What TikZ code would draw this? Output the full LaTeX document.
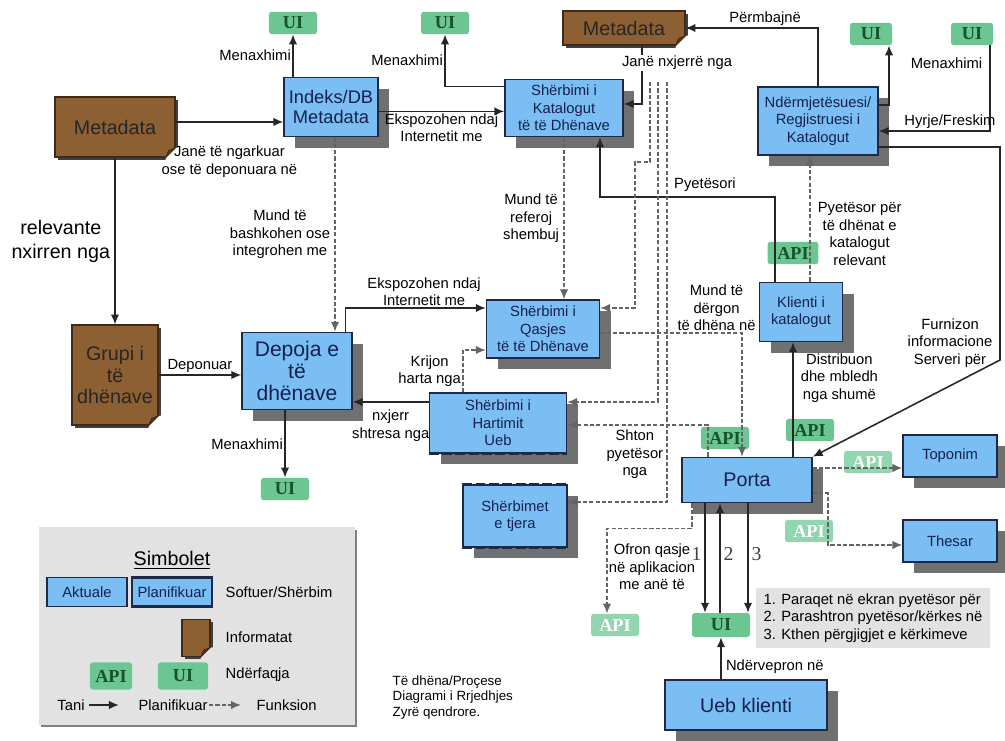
\documentclass[tikz,border=0pt]{standalone}
\usepackage{fontspec}
\setmainfont{Liberation Sans}
\newfontfamily\ifacefont{Liberation Serif}
\usepackage{tikz}
\usetikzlibrary{arrows.meta,shadows,positioning,calc}

\definecolor{boxblue}{RGB}{122,190,243}
\definecolor{boxline}{RGB}{28,42,72}
\definecolor{boxtext}{RGB}{22,32,78}
\definecolor{docbrown}{RGB}{141,96,52}
\definecolor{docline}{RGB}{62,42,22}
\definecolor{ifgreen}{RGB}{108,198,146}
\definecolor{ifpale}{RGB}{146,214,176}
\definecolor{iftext}{RGB}{22,82,42}
\definecolor{shadowgray}{RGB}{112,112,112}
\definecolor{legendgray}{RGB}{226,226,226}
\definecolor{planline}{RGB}{100,100,100}

\newcommand{\lblsize}{\fontsize{10.5}{12.5}\selectfont}
\newcommand{\bigtxt}{\fontsize{14}{14}\selectfont}

\begin{document}
\begin{tikzpicture}[x=0.025cm,y=-0.025cm,>={Latex[length=7pt,width=6pt]}]
    \tikzstyle{boxbase}=[rectangle, draw=boxline, line width=1pt, fill=boxblue, text=boxtext, align=center, font=\lblsize, inner sep=1pt]
    \tikzstyle{box}=[boxbase, drop shadow={shadow xshift=0.28cm, shadow yshift=-0.28cm, fill=shadowgray, opacity=1}]
    \tikzstyle{doc}=[rectangle, draw=docline, line width=0.8pt, fill=docbrown, text=black!85, align=center, font=\bigtxt, inner sep=1pt, drop shadow={shadow xshift=0.07cm, shadow yshift=-0.07cm, fill=black!75, opacity=1}]
    \tikzstyle{iface}=[rectangle, rounded corners=2pt, fill=ifgreen, text=iftext, font=\ifacefont\bfseries\fontsize{13}{13}\selectfont, minimum width=1.2cm, minimum height=0.56cm, inner sep=1pt]
    \tikzstyle{ifaded}=[iface, fill=ifpale, text=white]
    \tikzstyle{lbl}=[font=\lblsize, align=center, inner sep=1pt]
    \tikzstyle{arr}=[->, line width=1.1pt, draw=black!85]
    \tikzstyle{plan}=[->, line width=1.1pt, draw=planline, dash pattern=on 3pt off 1.5pt]
    \tikzstyle{dashedge}=[line width=2.2pt, draw=boxline, dash pattern=on 7pt off 2.5pt]
    \tikzstyle{num}=[font=\ifacefont\fontsize{14}{14}\selectfont, text=black!75, inner sep=2pt]

    \useasboundingbox (0,0) rectangle (1005,741);

    % legend
    \node[rectangle, fill=legendgray, minimum width=7.88cm, minimum height=4.93cm, drop shadow={shadow xshift=0.05cm, shadow yshift=-0.06cm, fill=black!50, opacity=1}] (legend) at (197,626) {};
    \node[font=\bigtxt] (simbolet) at (172,560) {\underline{Simbolet}};
    \node[boxbase, minimum width=2cm, minimum height=0.72cm] (aktuale) at (87,592) {Aktuale};
    \node[boxbase, line width=1.6pt, minimum width=2cm, minimum height=0.72cm] (planif) at (172,592) {Planifikuar};
    \node[lbl, anchor=west] (softuer) at (224,592) {Softuer/Shërbim};
    \node[doc, minimum width=0.7cm, minimum height=0.93cm] (legdoc) at (196,638) {};
    \node[lbl, anchor=west] (informatat) at (224,637) {Informatat};
    \node[iface, minimum width=1.05cm, minimum height=0.68cm] (legapi) at (111,676) {API};
    \node[iface, minimum width=1.25cm, minimum height=0.68cm] (legui) at (183,676) {UI};
    \node[lbl, anchor=west] (nderfaqja) at (224,675) {Ndërfaqja};
    \node[lbl] (tani) at (71,705) {Tani};
    \node[lbl] (planlbl) at (173,705) {Planifikuar};
    \node[lbl, anchor=west] (funksion) at (255,705) {Funksion};
    \draw[arr] ([xshift=2pt]tani.east) -- ([xshift=-0.45cm]planlbl.west);
    \draw[plan] (planlbl.east) -- ([xshift=-0.35cm]funksion.west);

    % information
    \node[doc, minimum width=3cm, minimum height=1.5cm] (metaL) at (115,127) {Metadata};
    \node[doc, minimum width=3.05cm, minimum height=0.85cm] (metaT) at (624,28) {Metadata};
    \node[doc, minimum width=2.15cm, minimum height=2.5cm, font=\fontsize{14}{15}\selectfont] (grupi) at (115,375) {Grupi i\\të\\dhënave};

    % software / services
    \node[box, font=\fontsize{13}{14}\selectfont, minimum width=2.35cm, minimum height=1.48cm] (indeks) at (331,107) {Indeks/DB\\Metadata};
    \node[box, minimum width=2.95cm, minimum height=1.43cm] (katalog) at (564,108) {Shërbimi i\\Katalogut\\të të Dhënave};
    \node[box, minimum width=3cm, minimum height=1.7cm] (ndermj) at (818,121) {Ndërmjetësuesi/\\Regjistruesi i\\Katalogut};
    \node[box, minimum width=2.83cm, minimum height=1.45cm] (qasjes) at (543,329) {Shërbimi i\\Qasjes\\të të Dhënave};
    \node[box, font=\fontsize{15}{15.5}\selectfont, minimum width=2.75cm, minimum height=1.93cm] (depoja) at (297,371) {Depoja e\\të\\dhënave};
    \node[box, minimum width=3.43cm, minimum height=1.5cm] (hartimit) at (498,423) {Shërbimi i\\Hartimit\\Ueb};
    \node[box, minimum width=2.6cm, minimum height=1.55cm] (tjera) at (515,516) {Shërbimet\\e tjera};
    \node[box, minimum width=2.08cm, minimum height=1.48cm] (klienti) at (801,312) {Klienti i\\katalogut};
    \node[box, font=\bigtxt, minimum width=3.25cm, minimum height=1.13cm] (porta) at (747,480) {Porta};
    \node[box, minimum width=2.35cm, minimum height=1.05cm] (toponim) at (950,456) {Toponim};
    \node[box, minimum width=2.35cm, minimum height=1.05cm] (thesar) at (950,541) {Thesar};
    \node[box, font=\bigtxt, minimum width=4.05cm, minimum height=1.25cm] (ueb) at (746,705) {Ueb klienti};

    % planned services
    \foreach \b in {hartimit,tjera}
      \draw[dashedge] (\b.south west) -- (\b.south east);
    \draw[dashedge] (tjera.north west) -- (tjera.north east);

    % interfaces
    \node[iface] (uiIdx) at (293,23) {UI};
    \node[iface] (uiKat) at (445,23) {UI};
    \node[iface, minimum width=1.05cm] (uiReg) at (871,34) {UI};
    \node[iface, minimum width=1.05cm] (uiHyr) at (972,34) {UI};
    \node[iface] (uiDep) at (285,489) {UI};
    \node[iface, minimum width=1.27cm] (apiKl) at (793,253) {API};
    \node[iface] (apiQs) at (725,438) {API};
    \node[iface] (apiDs) at (810,430) {API};
    \node[ifaded] (apiTp) at (868,462) {API};
    \node[ifaded] (apiTh) at (809,531) {API};
    \node[ifaded] (apiOf) at (615,625) {API};
    \node[iface, minimum width=1.45cm, minimum height=0.6cm] (uiWeb) at (721,625) {UI};

    % folded corners of the documents
    \foreach \d/\bg in {metaL/white,metaT/white,grupi/white,legdoc/legendgray}{
      \fill[\bg] ([xshift=-7pt]\d.south east) -- ([xshift=-7pt,yshift=-3pt]\d.south east)
        -- ([xshift=3pt,yshift=-3pt]\d.south east) -- ([xshift=3pt,yshift=7pt]\d.south east)
        -- ([yshift=7pt]\d.south east) -- cycle;
      \filldraw[fill=docbrown!60!black, draw=docline, line width=0.6pt] ([xshift=-7pt]\d.south east)
        -- ([yshift=7pt]\d.south east) -- ([xshift=-5pt,yshift=5pt]\d.south east) -- cycle;
    }

    % current flows
    \draw[arr] (indeks.north -| uiIdx) -- (uiIdx.south) node[lbl, midway, left] {Menaxhimi};
    \draw[arr] ([yshift=0.125cm]metaL.east) -- ([yshift=0.125cm]metaL.east -| indeks.west)
        node[lbl, midway, below=0.55cm] {Janë të ngarkuar\\ose të deponuara në};
    \draw[arr] (metaL.south) -- (grupi.north)
        node[lbl, font=\fontsize{14}{17}\selectfont, midway, left=2pt] {relevante\\nxirren nga};
    \draw[arr] ([yshift=-0.11cm]indeks.east) -- ([yshift=-0.11cm]indeks.east -| katalog.west)
        node[lbl, midway, below] {Ekspozohen ndaj\\Internetit me};
    \draw[arr] ([yshift=-0.2cm]katalog.north west) -| (uiKat.south) node[lbl, pos=0.75, left] {Menaxhimi};
    \draw[arr] ([xshift=0.45cm]metaT.south) |- ([yshift=0.1cm]katalog.east);
    \draw[arr] (ndermj.north) |- (metaT.east) node[lbl, pos=0.7, above] {Përmbajnë};
    \draw[arr] ([yshift=0.4cm]ndermj.east) -| ([xshift=0.45cm]uiReg.south)
        node[lbl, pos=0.85, right=14pt] {Menaxhimi};
    \draw[arr] ([xshift=0.45cm]uiHyr.south) |- ([yshift=-0.25cm]ndermj.east)
        node[lbl, pos=0.68, above] {Hyrje/Freskim};
    \coordinate (furn) at (1000,360);
    \draw[arr] ([yshift=-0.65cm]ndermj.east) -| (furn) -- (porta.north east);
    \node[lbl] (furnlbl) at (950,343) {Furnizon\\informacione\\Serveri për};
    \coordinate (pyet) at (600,197);
    \draw[arr] ([xshift=-0.65cm]klienti.north) |- (pyet) node[lbl, pos=0.7, above=2pt] {Pyetësori}
        -- (pyet |- katalog.south);
    \draw[arr] ([xshift=-0.2cm]klienti.south |- porta.north) -- ([xshift=-0.2cm]klienti.south)
        node[lbl, pos=0.69, right=4pt] {Distribuon\\dhe mbledh\\nga shumë};
    \draw[arr] ([xshift=-0.175cm]depoja.north east) |- ([yshift=0.525cm]qasjes.west)
        node[lbl, pos=0.78, above] {Ekspozohen ndaj\\Internetit me};
    \draw[arr] (grupi.east) -- (grupi.east -| depoja.west) node[lbl, midway, above] {Deponuar};
    \draw[arr] (depoja.south -| uiDep) -- (uiDep.north) node[lbl, midway, left] {Menaxhimi};
    \draw[arr] ([yshift=0.525cm]hartimit.west) -- ([yshift=0.525cm]hartimit.west -| depoja.east)
        node[lbl, midway, below=4pt] {nxjerr\\shtresa nga};
    \draw[arr] ([xshift=-0.4cm]uiWeb.north |- porta.south) -- ([xshift=-0.4cm]uiWeb.north)
        node[num, pos=0.46, left] {1};
    \draw[arr] ([xshift=-0.025cm]uiWeb.north) -- ([xshift=-0.025cm]uiWeb.north |- porta.south)
        node[num, pos=0.54, right] {2};
    \draw[arr] ([xshift=0.675cm]uiWeb.north |- porta.south) -- ([xshift=0.675cm]uiWeb.north)
        node[num, pos=0.46, right] {3};
    \draw[arr] (uiWeb.south |- ueb.north) -- (uiWeb.south) node[lbl, pos=0.3, right=2pt] {Ndërvepron në};

    % planned flows
    \draw[plan] ([xshift=0.225cm]klienti.north) -- ([xshift=0.225cm]klienti.north |- ndermj.south)
        node[lbl, pos=0.38, right=4pt] {Pyetësor për\\të dhënat e\\katalogut\\relevant};
    \draw[plan] ([xshift=0.1cm]indeks.south) -- ([xshift=0.1cm]indeks.south |- depoja.north)
        node[lbl, midway, left=2pt] {Mund të\\bashkohen ose\\integrohen me};
    \draw[plan] (katalog.south) -- (katalog.south |- qasjes.north)
        node[lbl, midway, left=2pt] {Mund të\\referoj\\shembuj};
    \draw[plan] ([xshift=-0.875cm]hartimit.north) |- ([yshift=-0.525cm]qasjes.west)
        node[lbl, pos=0.25, left] {Krijon\\harta nga};
    \coordinate (d1) at (650,82);
    \coordinate (d2) at (658,82);
    \coordinate (d3) at (667,82);
    \coordinate (d1bend) at (635,162);
    \draw[plan] (d1) |- (d1bend) |- ([yshift=0.525cm]qasjes.east);
    \draw[plan] (d2) |- ([yshift=0.525cm]hartimit.east);
    \draw[plan] (d3) |- ([yshift=0.35cm]tjera.east);
    \draw[plan] ([yshift=-0.1cm]qasjes.east) -| ([xshift=-0.125cm]porta.north)
        node[lbl, pos=0.41, above] {Mund të\\dërgon\\të dhëna në};
    \draw[plan] ([xshift=-0.975cm]porta.north) |- ([yshift=-0.05cm]hartimit.east)
        node[lbl, pos=0.76, below=2pt] {Shton\\pyetësor\\nga};
    \draw[plan] ([xshift=-1.375cm]porta.south) -- ++(0,25) -| ([xshift=-0.2cm]apiOf.north);
    \node[lbl] (ofron) at (652,567) {Ofron qasje\\në aplikacion\\me anë të};
    \draw[plan] ([yshift=0.3cm]porta.east) -- ([yshift=0.3cm]porta.east -| toponim.west);
    \draw[plan] ([yshift=-0.325cm]porta.east) -- ++(15,0) |- ([yshift=-0.1cm]thesar.west);

    \node[lbl, fill=white] (nxjerre) at (677,63) {Janë nxjerrë nga};

    % notes
    \node[lbl, fill=legendgray, align=left, minimum width=5.83cm, minimum height=1.48cm, inner sep=4pt] (notes) at (873,618)
        {1. Paraqet në ekran pyetësor për\\2. Parashtron pyetësor/kërkes në\\3. Kthen përgjigjet e kërkimeve};
    \node[lbl, align=left, anchor=north west, font=\fontsize{9.5}{11}\selectfont] (zyre) at (391,674)
        {Të dhëna/Proçese\\Diagrami i Rrjedhjes\\Zyrë qendrore.};
\end{tikzpicture}
\end{document}
